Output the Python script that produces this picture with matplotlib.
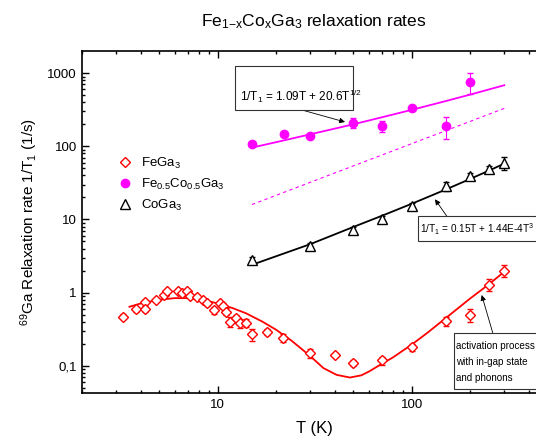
import matplotlib
matplotlib.use("Agg")
from matplotlib import pyplot as plt
from matplotlib.patches import Rectangle
from matplotlib.ticker import NullFormatter, LogLocator

plt.rcParams["font.family"] = ["Liberation Sans", "DejaVu Sans"]
plt.rcParams["mathtext.default"] = "regular"

# FeGa3 data
t_fe = [3.26, 3.8, 4.2, 4.2, 4.8, 5.25, 5.5, 6.2, 6.5, 6.9, 7.2, 7.85, 8.4, 8.8,
        9.6, 10.2, 10.6, 11.0, 11.6, 12.4, 13.0, 14.0, 15.0, 18.0, 21.8,
        30, 40, 50, 70, 100, 150, 200, 250, 300]
r_fe = [0.47, 0.59, 0.74, 0.60, 0.79, 0.93, 1.04, 1.06, 0.98, 1.06, 0.91, 0.88, 0.79, 0.71,
        0.57, 0.71, 0.66, 0.55, 0.40, 0.45, 0.38, 0.39, 0.27, 0.29, 0.24,
        0.148, 0.14, 0.11, 0.118, 0.18, 0.41, 0.50, 1.29, 2.0]
e_fe = [0.04, 0.04, 0.05, 0.05, 0.05, 0.05, 0.06, 0.06, 0.05, 0.06, 0.05, 0.05, 0.05, 0.05,
        0.06, 0.06, 0.06, 0.06, 0.06, 0.05, 0.05, 0.05, 0.05, 0.03, 0.03,
        0.02, 0.01, 0.01, 0.015, 0.02, 0.06, 0.1, 0.25, 0.35]
# FeGa3 model curve (activation process)
t_fe_fit = [3.5, 4, 5, 6, 7, 8, 9, 10, 12, 14, 17, 20, 24, 30, 35, 41, 48, 55, 60,
            70, 80, 100, 120, 150, 200, 250, 300]
r_fe_fit = [0.64, 0.71, 0.80, 0.84, 0.84, 0.81, 0.76, 0.71, 0.61, 0.52, 0.40, 0.31, 0.22,
            0.135, 0.093, 0.075, 0.069, 0.074, 0.083, 0.106, 0.13, 0.195, 0.28, 0.45,
            0.83, 1.3, 1.93]

# Fe0.5Co0.5Ga3 data
t_feco = [15, 22, 30, 50, 70, 100, 150, 200]
r_feco = [109, 146, 139, 211, 190, 337, 190, 763]
e_feco = [5, 8, 8, 35, 32, 15, 65, 240]
t_feco_fit = [15, 20, 30, 50, 70, 100, 150, 200, 300]
r_feco_fit = [96, 114, 146, 200, 249, 315, 416, 509, 684]
t_feco_lin = [15, 300]
r_feco_lin = [16, 330]

# CoGa3 data
t_co = [15, 30, 50, 70, 100, 150, 200, 250, 300]
r_co = [2.79, 4.38, 7.24, 10.1, 15.4, 28.8, 39.5, 48.7, 60]
e_co = [0.3, 0.4, 0.7, 1.0, 1.5, 4, 4, 5, 12]
t_co_fit = [15, 30, 50, 70, 100, 150, 200, 250, 300]
r_co_fit = [2.4, 4.6, 7.9, 11.2, 16.4, 25.7, 35.8, 46.5, 58]

yticks = [0.1, 1, 10, 100, 1000]
ylabels = ["0,1", "1", "10", "100", "1000"]
xticks = [10, 100]
xlabels = ["10", "100"]

W, H = 536, 443
fig = plt.figure(figsize=(W / 100, H / 100), dpi=100)
ax = fig.add_axes([82.3 / W, (H - 393.3) / H, 465 / W, 342 / H])

red, mag = "#ff0000", "#ff00ff"

ax.plot(t_fe_fit, r_fe_fit, color=red, lw=1.3)
ax.plot(t_feco_fit, r_feco_fit, color=mag, lw=1.3)
ax.plot(t_feco_lin, r_feco_lin, color=mag, lw=0.8, ls=(0, (3, 3)))
ax.plot(t_co_fit, r_co_fit, color="black", lw=1.3)

ax.errorbar(t_fe, r_fe, yerr=e_fe, fmt="none", ecolor=red, elinewidth=0.8, capsize=2.5)
ax.errorbar(t_feco, r_feco, yerr=e_feco, fmt="none", ecolor=mag, elinewidth=0.8, capsize=2.5)
ax.errorbar(t_co, r_co, yerr=e_co, fmt="none", ecolor="black", elinewidth=0.8, capsize=2.5)

ax.plot(t_fe, r_fe, "D", ms=5.5, mfc="white", mec=red, mew=1.0, ls="none", label="FeGa$_3$")
ax.plot(t_feco, r_feco, "o", ms=6, mfc=mag, mec=mag, ls="none", label="Fe$_{0.5}$Co$_{0.5}$Ga$_3$")
ax.plot(t_co, r_co, "^", ms=6.5, mfc="white", mec="black", mew=1.0, ls="none", label="CoGa$_3$")

ax.set_xscale("log")
ax.set_yscale("log")
ax.set_xlim(2, 500)
ax.set_ylim(0.042, 1990)

ax.set_xticks(xticks)
ax.set_xticklabels(xlabels)
ax.set_yticks(yticks)
ax.set_yticklabels(ylabels)
ax.xaxis.set_minor_locator(LogLocator(base=10, subs=range(2, 10)))
ax.yaxis.set_minor_locator(LogLocator(base=10, subs=range(2, 10)))
ax.xaxis.set_minor_formatter(NullFormatter())
ax.yaxis.set_minor_formatter(NullFormatter())
ax.tick_params(which="both", direction="in", top=True, right=False, labelsize=9.5, width=1.0)
ax.tick_params(which="major", length=5, pad=4)
ax.tick_params(which="minor", length=2.5)
for s in ax.spines.values():
    s.set_linewidth(1.2)

ax.set_xlabel("T (K)", fontsize=12, labelpad=7)
ax.set_ylabel("$^{69}$Ga Relaxation rate 1/T$_1$ (1/s)", fontsize=11, labelpad=5)
fig.text(314 / W, 1 - 22 / H, "Fe$_{1{-}x}$Co$_x$Ga$_3$ relaxation rates",
         ha="center", va="center", fontsize=12.5)

ax.legend(loc="upper left", bbox_to_anchor=(0.0746, 0.694), frameon=False, fontsize=9.5,
          handlelength=1.2, handletextpad=0.6, borderpad=0, borderaxespad=0,
          labelspacing=0.45, numpoints=1)


def fpx(x, y):
    # figure pixels measured from top-left -> figure fraction
    return (x / W, 1 - y / H)


def box(x0, y0, x1, y1):
    r = Rectangle(fpx(x0, y1), (x1 - x0) / W, (y1 - y0) / H, transform=fig.transFigure,
                  fill=True, facecolor="white", edgecolor="#333333", lw=0.8, zorder=5)
    fig.add_artist(r)


def arrow(x0, y0, x1, y1):
    ax.annotate("", xy=fpx(x1, y1), xytext=fpx(x0, y0), xycoords="figure fraction",
                textcoords="figure fraction",
                arrowprops=dict(arrowstyle="-|>", color="black", lw=0.6,
                                mutation_scale=8, shrinkA=0, shrinkB=0))


box(235, 65.6, 353, 110)
fig.text(*fpx(240, 96), "1/T$_1$ = 1.09T + 20.6T$^{1/2}$", ha="left", va="center",
         fontsize=8.5, zorder=6)
arrow(302, 110, 345, 122)

box(418, 216, 560, 241)
fig.text(*fpx(420.5, 229), "1/T$_1$ = 0.15T + 1.44E-4T$^3$", ha="left", va="center",
         fontsize=7.2, zorder=6)
arrow(446.7, 216, 435, 199.3)

box(454, 332.7, 560, 389.3)
fig.text(*fpx(456.5, 362), "activation process\nwith in-gap state\nand phonons",
         ha="left", va="center", fontsize=7.1, linespacing=1.7, zorder=6)
arrow(492.7, 332.7, 481.7, 295)

fig.savefig("out.png", dpi=100)
